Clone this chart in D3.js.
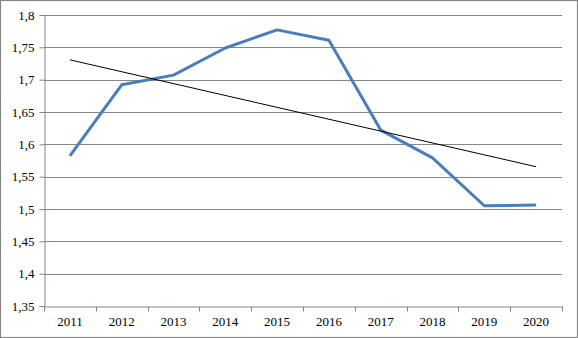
<!DOCTYPE html>
<html><head><meta charset="utf-8">
<script src="https://cdn.jsdelivr.net/npm/d3@7"></script>
<style>html,body{margin:0;padding:0;background:#fff;}svg{display:block;}</style>
</head><body>
<script>
const categories = ["2011","2012","2013","2014","2015","2016","2017","2018","2019","2020"];
const values = [1.582,1.692,1.707,1.749,1.777,1.761,1.622,1.579,1.505,1.506];
const yTicks = [1.35,1.4,1.45,1.5,1.55,1.6,1.65,1.7,1.75,1.8];
const yTickLabels = ["1,35","1,4","1,45","1,5","1,55","1,6","1,65","1,7","1,75","1,8"];

const W=578,H=338;
const m={l:44,r:16,t:15,b:32};
const FONT="Liberation Serif";
const svg=d3.select("body").append("svg").attr("width",W).attr("height",H);
svg.append("rect").attr("x",0.5).attr("y",0.5).attr("width",W-1).attr("height",H-1)
  .attr("fill","#fff").attr("stroke","#868686").attr("stroke-width",1.2);

const x=d3.scaleBand().domain(categories).range([m.l,W-m.r]);
const y=d3.scaleLinear().domain([1.35,1.8]).range([H-m.b,m.t]);

// gridlines
svg.append("g").selectAll("line").data(yTicks.slice(1)).join("line")
  .attr("x1",m.l).attr("x2",W-m.r)
  .attr("y1",d=>Math.round(y(d))+0.5).attr("y2",d=>Math.round(y(d))+0.5)
  .attr("stroke","#868686").attr("stroke-width",1);

// y axis
const ya=svg.append("g").attr("transform",`translate(${m.l+0.5},0)`)
  .call(d3.axisLeft(y).tickValues(yTicks).tickSize(5).tickPadding(5)
    .tickFormat((d,i)=>yTickLabels[i]));
ya.attr("font-family",FONT).attr("font-size",13);
ya.select(".domain").attr("stroke","#868686");
ya.selectAll(".tick line").attr("stroke","#868686");
ya.selectAll("text").attr("font-family",FONT).attr("font-size",13).attr("fill","#000");

// x axis
const xa=svg.append("g").attr("transform",`translate(0,${Math.round(y(1.35))+0.5})`)
  .call(d3.axisBottom(x).tickSize(0).tickPadding(10));
xa.attr("font-family",FONT).attr("font-size",13);
xa.select(".domain").attr("stroke","#868686");
xa.selectAll("text").attr("font-family",FONT).attr("font-size",13).attr("fill","#000");
const bounds=categories.map(c=>x(c)).concat([x(categories[categories.length-1])+x.bandwidth()]);
xa.selectAll(".btick").data(bounds).join("line").attr("class","btick")
  .attr("x1",d=>Math.round(d)+0.5).attr("x2",d=>Math.round(d)+0.5)
  .attr("y1",0).attr("y2",5).attr("stroke","#868686");

// series line
const cx=c=>x(c)+x.bandwidth()/2;
svg.append("path").datum(values)
  .attr("d",d3.line().x((d,i)=>cx(categories[i])).y(d=>y(d)))
  .attr("fill","none").attr("stroke","#4a7ebb").attr("stroke-width",3).attr("stroke-linejoin","round");

// linear trend (least squares of the series)
const n=values.length, xs=d3.range(1,n+1);
const mx=d3.mean(xs), my=d3.mean(values);
const slope=d3.sum(xs,(xi,i)=>(xi-mx)*(values[i]-my))/d3.sum(xs,xi=>(xi-mx)**2);
const icpt=my-slope*mx;
svg.append("line")
  .attr("x1",cx(categories[0])).attr("y1",y(icpt+slope*1))
  .attr("x2",cx(categories[n-1])).attr("y2",y(icpt+slope*n))
  .attr("stroke","#000").attr("stroke-width",1);
</script>
</body></html>
